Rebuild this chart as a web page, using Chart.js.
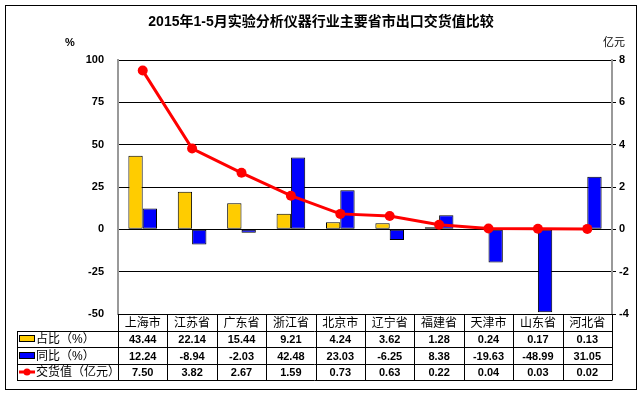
<!DOCTYPE html>
<html>
<head>
<meta charset="utf-8">
<script src="https://cdn.jsdelivr.net/npm/chart.js@4"></script>
<style>
html,body{margin:0;padding:0;background:#fff;}
</style>
</head>
<body>
<canvas id="grafik" width="642" height="396"></canvas>
<script>
/* VERILER */
var kategoriler = ["上海市", "江苏省", "广东省", "浙江省", "北京市", "辽宁省", "福建省", "天津市", "山东省", "河北省"];
var zhanbi = [43.44, 22.14, 15.44, 9.21, 4.24, 3.62, 1.28, 0.24, 0.17, 0.13];
var tongbi = [12.24, -8.94, -2.03, 42.48, 23.03, -6.25, 8.38, -19.63, -48.99, 31.05];
var jiaohuo = [7.50, 3.82, 2.67, 1.59, 0.73, 0.63, 0.22, 0.04, 0.03, 0.02];
var seriAdlari = ["占比（%）", "同比（%）", "交货值（亿元）"];
var solEksen = [-50, 100, 25];
var sagEksen = [-4, 8, 2];
/* VERILER */

var yaziTipi = "'Liberation Sans', Arial, 'Noto Sans CJK SC', sans-serif";

/* TABLO VE BASLIK CIZIMI */
var tabloEklentisi = {
  id: "tablo",
  afterDraw: function (chart) {
    var ctx = chart.ctx;
    var x = chart.scales.x;
    var alan = chart.chartArea;
    ctx.save();

    // dis cerceve
    ctx.strokeStyle = "#000";
    ctx.lineWidth = 1;
    ctx.strokeRect(5.5, 5.5, 631, 384);

    // baslik
    ctx.fillStyle = "#000";
    ctx.textAlign = "center";
    ctx.textBaseline = "middle";
    ctx.font = "bold 14px " + yaziTipi;
    ctx.fillText("2015年1-5月实验分析仪器行业主要省市出口交货值比较", 321, 22);

    ctx.font = "bold 11px " + yaziTipi;
    ctx.fillText("%", 70, 43);
    ctx.font = "11px " + yaziTipi;
    ctx.fillText("亿元", 614, 43);

    // tablo satirlari
    var satirlar = [alan.bottom, 331, 347, 364, 380];
    var sol = 17;
    var adim = (alan.right - alan.left) / kategoriler.length;

    ctx.beginPath();
    ctx.moveTo(alan.left, satirlar[0] + 0.5);
    ctx.lineTo(alan.right, satirlar[0] + 0.5);
    for (var r = 1; r < satirlar.length; r++) {
      ctx.moveTo(sol, satirlar[r] + 0.5);
      ctx.lineTo(alan.right, satirlar[r] + 0.5);
    }
    ctx.moveTo(sol + 0.5, satirlar[1]);
    ctx.lineTo(sol + 0.5, satirlar[4] + 0.5);
    ctx.moveTo(alan.left + 0.5, satirlar[0]);
    ctx.lineTo(alan.left + 0.5, satirlar[4] + 0.5);
    for (var i = 1; i <= kategoriler.length; i++) {
      var cx = Math.round(alan.left + adim * i) + 0.5;
      ctx.moveTo(cx, satirlar[0]);
      ctx.lineTo(cx, satirlar[4] + 0.5);
    }
    ctx.stroke();

    var degerler = [zhanbi, tongbi, jiaohuo];
    for (var i = 0; i < kategoriler.length; i++) {
      var px = x.getPixelForValue(i);
      ctx.font = "12px " + yaziTipi;
      ctx.fillText(kategoriler[i], px, (satirlar[0] + satirlar[1]) / 2 + 1);
      ctx.font = "bold 11px " + yaziTipi;
      for (var s = 0; s < 3; s++) {
        var metin = degerler[s][i].toFixed(2);
        ctx.fillText(metin, px, (satirlar[s + 1] + satirlar[s + 2]) / 2 + 1);
      }
    }

    // lejant isaretleri
    ctx.textAlign = "left";
    ctx.font = "12px " + yaziTipi;
    ctx.lineWidth = 1;
    ctx.fillStyle = "#FFCC00";
    ctx.fillRect(19.5, 335.5, 15, 6);
    ctx.strokeRect(19.5, 335.5, 15, 6);
    ctx.fillStyle = "#0000FF";
    ctx.fillRect(19.5, 352.5, 15, 6);
    ctx.strokeRect(19.5, 352.5, 15, 6);
    ctx.strokeStyle = "#FF0000";
    ctx.lineWidth = 3;
    ctx.beginPath();
    ctx.moveTo(19, 372);
    ctx.lineTo(35, 372);
    ctx.stroke();
    ctx.fillStyle = "#FF0000";
    ctx.beginPath();
    ctx.arc(27, 372, 3.5, 0, Math.PI * 2);
    ctx.fill();

    ctx.fillStyle = "#000";
    for (var s = 0; s < 3; s++) {
      ctx.fillText(seriAdlari[s], 36, (satirlar[s + 1] + satirlar[s + 2]) / 2 + 1);
    }
    ctx.restore();
  }
};

var ctx = document.getElementById("grafik");
var grafik = new Chart(ctx, {
  type: "bar",
  data: {
    labels: kategoriler,
    datasets: [{
      type: "line",
      label: seriAdlari[2],
      data: jiaohuo,
      yAxisID: "y1",
      borderColor: "#FF0000",
      backgroundColor: "#FF0000",
      borderWidth: 3,
      pointRadius: 5,
      pointBorderWidth: 0,
      tension: 0,
      order: 0
    }, {
      label: seriAdlari[0],
      data: zhanbi,
      yAxisID: "y",
      backgroundColor: "#FFCC00",
      borderColor: "#000",
      borderWidth: 1,
      borderSkipped: false,
      categoryPercentage: 0.58,
      barPercentage: 1,
      order: 1
    }, {
      label: seriAdlari[1],
      data: tongbi,
      yAxisID: "y",
      backgroundColor: "#0000FF",
      borderColor: "#000",
      borderWidth: 1,
      borderSkipped: false,
      categoryPercentage: 0.58,
      barPercentage: 1,
      order: 1
    }]
  },
  options: {
    responsive: false,
    animation: false,
    layout: { padding: { left: 0, right: 0, top: 60, bottom: 82 } },
    plugins: {
      legend: { display: false },
      title: { display: false },
      tooltip: { enabled: false }
    },
    scales: {
      x: { display: false },
      y: {
        position: "left",
        min: solEksen[0],
        max: solEksen[1],
        afterFit: function (scale) { scale.width = 118; },
        ticks: {
          stepSize: solEksen[2],
          color: "#000",
          padding: 14,
          font: { family: yaziTipi, size: 11, weight: "bold" }
        },
        grid: { color: "#000", drawTicks: false },
        border: { color: "#999", width: 2 }
      },
      y1: {
        position: "right",
        min: sagEksen[0],
        max: sagEksen[1],
        afterFit: function (scale) { scale.width = 30; },
        ticks: {
          stepSize: sagEksen[2],
          color: "#000",
          padding: 3,
          font: { family: yaziTipi, size: 11, weight: "bold" }
        },
        grid: { drawOnChartArea: false, color: "#000", tickLength: 4 },
        border: { color: "#999", width: 2 }
      }
    }
  },
  plugins: [tabloEklentisi]
});
</script>
</body>
</html>
